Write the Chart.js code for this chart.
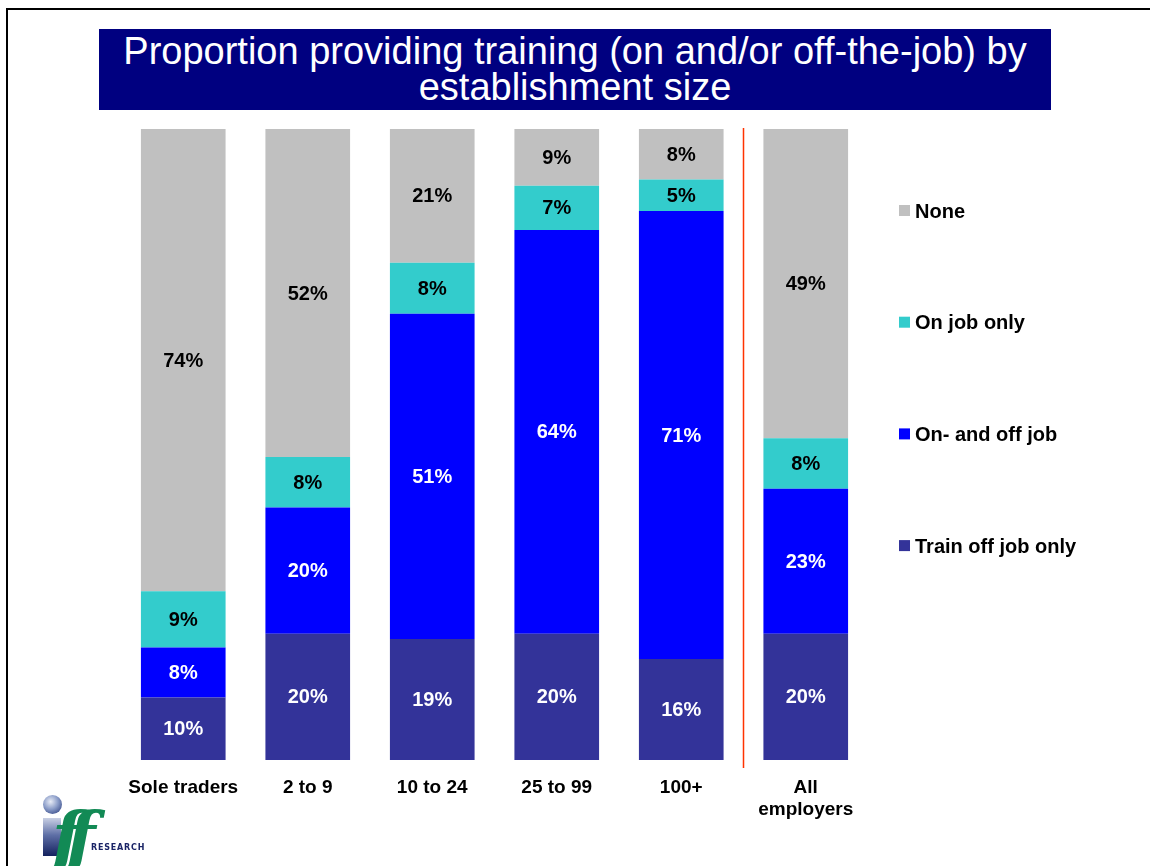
<!DOCTYPE html>
<html>
<head>
<meta charset="utf-8">
<script src="https://cdn.jsdelivr.net/npm/chart.js@4.4.1/dist/chart.umd.min.js"></script>
<style>
  body { margin: 0; background: #fff; }
  #wrap { position: relative; width: 1150px; height: 866px; overflow: hidden; }
  #frame { position: absolute; left: 6px; top: 8px; right: -10px; bottom: -10px;
           border-left: 2px solid #000; border-top: 2px solid #000; }
  #title { position: absolute; left: 99px; top: 29px; width: 952px; height: 81px;
           background: #000080; color: #fff; text-align: center;
           font-family: "Liberation Sans", Arial, sans-serif;
           font-size: 38px; line-height: 36px; padding-top: 4px; box-sizing: border-box; }
  canvas { position: absolute; left: 0; top: 0; }
  .logo { position: absolute; }
</style>
</head>
<body>
<div id="wrap">
  <div id="frame"></div>
  <canvas id="trainingChart" width="1150" height="866"></canvas>
  <div id="title">Proportion providing training (on and/or off-the-job) by<br>establishment size</div>
  <!-- rough iff research logo -->
  <div class="logo" style="left:43px;top:795px;width:19px;height:19px;border-radius:50%;
       background:radial-gradient(circle at 40% 35%, #e8ecf6 0%, #8a9cc8 45%, #1c2f72 100%);"></div>
  <div class="logo" style="left:43px;top:818px;width:18px;height:38px;
       background:linear-gradient(#c9d0e4, #5e6fa6 45%, #14215e);"></div>
  <div class="logo" style="left:52px;top:796px;font:italic bold 68px 'DejaVu Serif', serif;color:#128a55;letter-spacing:-15px;">ff</div>
  <div class="logo" style="left:91px;top:843px;font:900 8px 'DejaVu Sans', sans-serif;color:#1a2466;letter-spacing:0.8px;">RESEARCH</div>
</div>
<script>
const categories = ['Sole traders', '2 to 9', '10 to 24', '25 to 99', '100+', ['All', 'employers']];
const trainOffOnly = [10, 20, 19, 20, 16, 20];
const onAndOffJob = [8, 20, 51, 64, 71, 23];
const onJobOnly = [9, 8, 8, 7, 5, 8];
const noTraining = [74, 52, 21, 9, 8, 49];

const seriesNames = ['Train off job only', 'On- and off job', 'On job only', 'None'];
const seriesColors = ['#333399', '#0000FF', '#33CCCC', '#C0C0C0'];
const labelColors = ['#FFFFFF', '#FFFFFF', '#000000', '#000000'];
const seriesValues = [trainOffOnly, onAndOffJob, onJobOnly, noTraining];

// each bar is drawn as a 100% stack
const totals = categories.map((c, i) => seriesValues.reduce((s, arr) => s + arr[i], 0));

const FONT = '"Liberation Sans", Arial, sans-serif';

const barLabels = {
  id: 'barLabels',
  afterDatasetsDraw(chart) {
    const ctx = chart.ctx;
    ctx.save();
    ctx.font = 'bold 20px ' + FONT;
    ctx.textAlign = 'center';
    ctx.textBaseline = 'middle';
    chart.data.datasets.forEach((ds, di) => {
      chart.getDatasetMeta(di).data.forEach((bar, i) => {
        ctx.fillStyle = labelColors[di];
        ctx.fillText(seriesValues[di][i] + '%', bar.x, (bar.y + bar.base) / 2 + 1);
      });
    });
    ctx.restore();
  }
};

const separator = {
  id: 'separator',
  afterDatasetsDraw(chart) {
    const { ctx, chartArea, scales } = chart;
    const x = (scales.x.getPixelForValue(4) + scales.x.getPixelForValue(5)) / 2;
    ctx.save();
    ctx.strokeStyle = '#FF3300';
    ctx.lineWidth = 1.5;
    ctx.beginPath();
    ctx.moveTo(x, chartArea.top - 1);
    ctx.lineTo(x, chartArea.bottom + 8);
    ctx.stroke();
    ctx.restore();
  }
};

const sideLegend = {
  id: 'sideLegend',
  afterDraw(chart) {
    const { ctx, chartArea } = chart;
    const x = chartArea.right + 31;
    ctx.save();
    ctx.font = 'bold 20px ' + FONT;
    ctx.textBaseline = 'middle';
    ctx.textAlign = 'left';
    for (let k = 0; k < 4; k++) {
      const di = 3 - k;
      const y = 211 + k * 111.7;
      ctx.fillStyle = seriesColors[di];
      ctx.fillRect(x, y - 6, 11, 11);
      ctx.fillStyle = '#000';
      ctx.fillText(seriesNames[di], x + 16, y + 1);
    }
    ctx.restore();
  }
};

new Chart(document.getElementById('trainingChart'), {
  type: 'bar',
  data: {
    labels: categories,
    datasets: seriesValues.map((vals, di) => ({
      label: seriesNames[di],
      data: vals.map((v, i) => v / totals[i] * 100),
      backgroundColor: seriesColors[di],
      borderWidth: 0,
      barPercentage: 0.68,
      categoryPercentage: 1
    }))
  },
  options: {
    responsive: false,
    animation: false,
    layout: { padding: { left: 121, right: 282, top: 129, bottom: 0 } },
    plugins: {
      legend: { display: false },
      tooltip: { enabled: false }
    },
    scales: {
      x: {
        stacked: true,
        grid: { display: false },
        border: { display: false },
        ticks: { color: '#000', font: { family: FONT, size: 19, weight: 'bold', lineHeight: 1.15 }, padding: 9, maxRotation: 0 },
        afterFit: scale => { scale.height = 106; }
      },
      y: {
        stacked: true,
        display: false,
        min: 0,
        max: 100
      }
    }
  },
  plugins: [barLabels, separator, sideLegend]
});
</script>
</body>
</html>
